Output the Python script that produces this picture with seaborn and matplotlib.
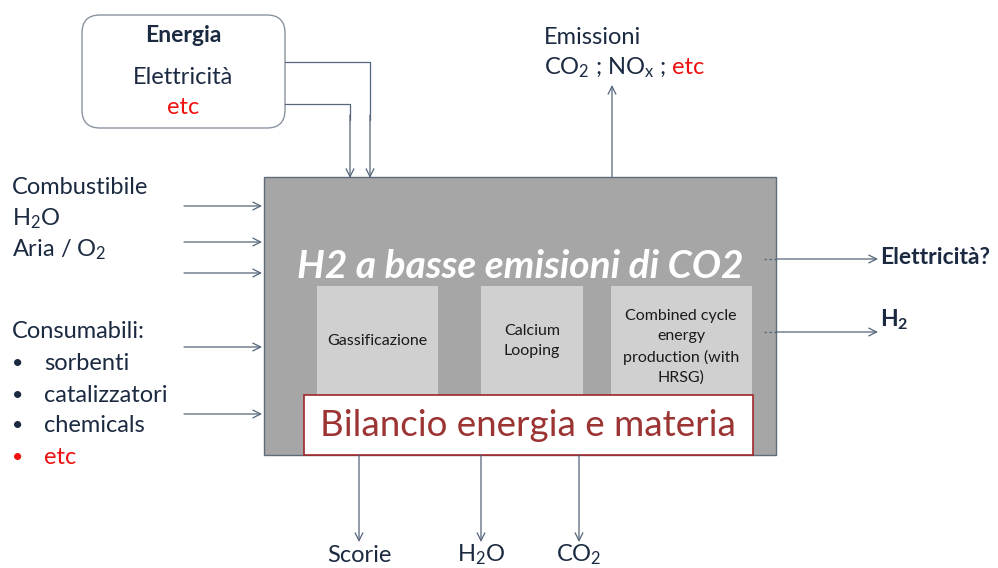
import numpy as np
import matplotlib.pyplot as plt
import seaborn as sns
from matplotlib.patches import FancyBboxPatch, Rectangle

sns.set_style("white")
plt.rcParams['font.family'] = ['Lato', 'DejaVu Sans']
plt.rcParams['mathtext.fontset'] = 'custom'
plt.rcParams['mathtext.rm'] = 'Lato'
plt.rcParams['mathtext.it'] = 'Lato:italic'
plt.rcParams['mathtext.bf'] = 'Lato:bold'

# =========================
# contenuti
energy_lines = ["Energia", "Elettricità", "etc"]
left_inputs = ["Combustibile", "H$_2$O", "Aria / O$_2$"]
consumables_title = "Consumabili:"
consumables = ["sorbenti", "catalizzatori", "chemicals", "etc"]
process_units = ["Gassificazione", "Calcium\nLooping", "Combined cycle\nenergy\nproduction (with\nHRSG)"]
main_title = "H2 a basse emisioni di CO2"
balance_label = "Bilancio energia e materia"
right_outputs = ["Elettricità?", "$\\mathbf{H_2}$"]
bottom_outputs = ["Scorie", "H$_2$O", "CO$_2$"]
emissions_title = "Emissioni"
emissions_list = "CO$_2$ ; NO$_\\mathrm{x}$ ;"

# posizioni (pixel)
left_arrow_y = [206, 242, 273, 347, 414]
bottom_arrow_x = [359, 481, 579]
right_arrow_y = [259, 332]
unit_boxes = [(317, 438), (481, 583), (611, 752)]

NAVY = "#1b2a41"
ARROW = "#55657a"
RED = "#ee1111"
FS = 17

fig = plt.figure(figsize=(9.98, 5.68), dpi=100)
ax = fig.add_axes([0, 0, 1, 1])
ax.set_xlim(0, 998)
ax.set_ylim(568, 0)
ax.axis('off')


def arrow(x0, y0, x1, y1):
    ax.annotate("", xy=(x1, y1), xytext=(x0, y0),
                arrowprops=dict(arrowstyle="->", color=ARROW, lw=0.9,
                                shrinkA=0, shrinkB=0, mutation_scale=14))


# box energia
ax.add_patch(FancyBboxPatch((82, 15), 203, 113, boxstyle="round,pad=0,rounding_size=18",
                            fc="white", ec="#8a94a0", lw=1.0))
ax.text(183, 35, energy_lines[0], ha="center", va="center", fontsize=16.5, fontweight="bold", color=NAVY)
ax.text(183, 77, energy_lines[1], ha="center", va="center", fontsize=FS, color=NAVY)
ax.text(183, 108, energy_lines[2], ha="center", va="center", fontsize=FS, color=RED)
ax.plot([285, 370, 370], [62, 62, 120], color=ARROW, lw=0.9)
ax.plot([285, 350, 350], [104, 104, 120], color=ARROW, lw=0.9)
arrow(370, 115, 370, 178)
arrow(350, 115, 350, 178)

# box principale
ax.add_patch(Rectangle((264, 177), 512, 278, fc="#a6a6a6", ec="#5f6b7a", lw=1.0))
ax.text(520, 267, main_title, ha="center", va="center", fontsize=28, fontweight="bold",
        style="italic", color="white")

for (x0, x1), label in zip(unit_boxes, process_units):
    ax.add_patch(Rectangle((x0, 286), x1 - x0, 112, fc="#d0d0d0", ec="none"))
ax.text(377, 341, process_units[0], ha="center", va="center", fontsize=11.5, color="#1a1a1a")
ax.text(532, 341, process_units[1], ha="center", va="center", fontsize=11.5, color="#1a1a1a", linespacing=1.55)
ax.text(681, 347, process_units[2], ha="center", va="center", fontsize=11.5, color="#1a1a1a", linespacing=1.55)

ax.add_patch(Rectangle((304, 395), 449, 60, fc="white", ec="#a0262a", lw=1.2))
ax.text(528, 425, balance_label, ha="center", va="center", fontsize=26.5, color="#9c3434")

# ingressi a sinistra
for i, label in enumerate(left_inputs):
    ax.text(12, 188 + i * 31, label, ha="left", va="center", fontsize=FS, color=NAVY)
ax.text(12, 332, consumables_title, ha="left", va="center", fontsize=FS, color=NAVY)
for i, label in enumerate(consumables):
    c = RED if label == "etc" else NAVY
    ax.text(12, 364 + i * 31, "•", ha="left", va="center", fontsize=14, color=c)
    ax.text(44, 364 + i * 31, label, ha="left", va="center", fontsize=FS, color=c)
for y in left_arrow_y:
    arrow(184, y, 262, y)

# emissioni
ax.text(544, 37, emissions_title, ha="left", va="center", fontsize=FS, color=NAVY)
t = ax.text(544, 68, emissions_list, ha="left", va="center", fontsize=FS, color=NAVY)
fig.canvas.draw()
bb = t.get_window_extent(renderer=fig.canvas.get_renderer())
x_end = ax.transData.inverted().transform((bb.x1, bb.y0))[0]
ax.text(x_end + 6, 68, "etc", ha="left", va="center", fontsize=FS, color=RED)
arrow(612, 177, 612, 85)

# uscite a destra
ax.plot([764, 776], [259, 259], color=ARROW, lw=0.9, ls=(0, (2, 2)))
ax.plot([764, 776], [332, 332], color=ARROW, lw=0.9, ls=(0, (2, 2)))
for y in right_arrow_y:
    arrow(776, y, 878, y)
ax.text(880, 258, right_outputs[0], ha="left", va="center", fontsize=16.5, fontweight="bold", color=NAVY)
ax.text(880, 320, right_outputs[1], ha="left", va="center", fontsize=16.5, fontweight="bold", color=NAVY)

# uscite in basso
for x, label in zip(bottom_arrow_x, bottom_outputs):
    arrow(x, 455, x, 542)
    ax.text(x, 555, label, ha="center", va="center", fontsize=FS, color=NAVY)

fig.savefig("out.png", dpi=100)
